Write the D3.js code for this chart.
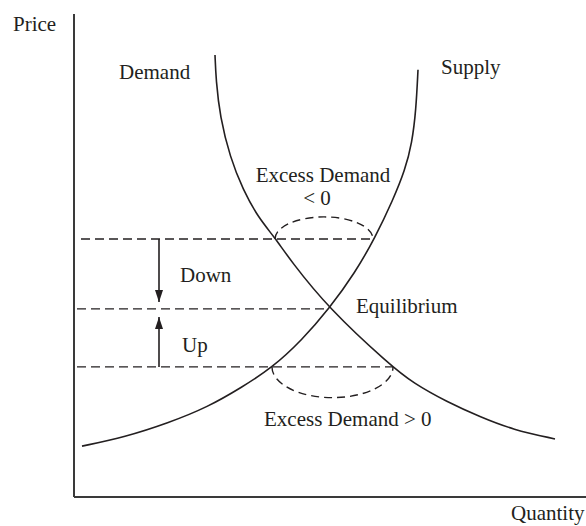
<!DOCTYPE html>
<html>
<head>
<meta charset="utf-8">
<script src="https://cdn.jsdelivr.net/npm/d3@7"></script>
<style>
  body { margin: 0; background: #fff; }
  text { font-family: "Liberation Serif", "Times New Roman", serif; font-size: 21px; fill: #231f20; }
</style>
</head>
<body>
<div id="chart"></div>
<script>

// curve data (quantity, price), both on a 0..100 scale
var demandQ = [28.2, 28.4, 29.2, 31.2, 33.8, 36.8, 40.2, 43.2, 51, 63.2, 67.8, 74.6, 81.2, 87.8, 96.2];
var demandP = [92.1, 86.9, 79.2, 70.8, 64.0, 58.3, 54.0, 49.4, 39.2, 27.5, 23.75, 19.8, 16.7, 14.0, 12.1];
var supplyQ = [1.6, 10.2, 18.8, 26.8, 33.6, 39.6, 45.6, 51, 56.2, 60.2, 63.8, 66.2, 67.6, 68.4, 68.8];
var supplyP = [10.6, 12.5, 15.4, 18.75, 22.9, 26.9, 32.7, 39.2, 46.7, 54.0, 61.9, 68.1, 73.75, 80.6, 89.0];

// price levels : high, equilibrium, low
var priceLevels = [53.75, 39.2, 27.1];
var levelStartQ = [1.4, 0.6, 0.6];
var levelEndQ = [59.8, 51, 63.8];

// excess demand arcs : [left q, right q, price, bulge in price units]
var arcLeftQ = [40.2, 39.6];
var arcRightQ = [59.8, 63.8];
var arcPrice = [53.75, 27.1];
var arcBulge = [4.6, -6.4];

// adjustment arrows : quantity, from price, to price
var arrowQ = 17;
var arrowFrom = [53.75, 27.1];
var arrowTo = [40.6, 37.5];

var labels = [
  { text: 'Price', q: -12.2, p: 97 },
  { text: 'Demand', q: 9, p: 87 },
  { text: 'Supply', q: 73.4, p: 88.1 },
  { text: 'Excess Demand', q: 49.8, p: 65.6, anchor: 'middle' },
  { text: '< 0', q: 48.6, p: 60.8, anchor: 'middle' },
  { text: 'Down', q: 21.2, p: 44.8 },
  { text: 'Up', q: 21.6, p: 30.2 },
  { text: 'Equilibrium', q: 56.4, p: 38.4 },
  { text: 'Excess Demand > 0', q: 38, p: 14.8 },
  { text: 'Quantity', q: 87.4, p: -4.8 }
];

var attrs = {
  svgWidth: 586,
  svgHeight: 526,
  originX: 74,
  originY: 497,
  color: '#231f20'
};

var svg = d3.select('#chart')
  .append('svg')
  .attr('width', attrs.svgWidth)
  .attr('height', attrs.svgHeight);

var x = d3.scaleLinear().domain([0, 100]).range([attrs.originX, 574]);
var y = d3.scaleLinear().domain([0, 100]).range([attrs.originY, 17]);

// axes (plain lines, no ticks)
svg.append('line')
  .attr('x1', x(0)).attr('x2', x(0))
  .attr('y1', 14).attr('y2', y(0))
  .attr('stroke', '#3a3a3a').attr('stroke-width', 2);

svg.append('line')
  .attr('x1', x(0)).attr('x2', attrs.svgWidth)
  .attr('y1', y(0)).attr('y2', y(0))
  .attr('stroke', '#3a3a3a').attr('stroke-width', 2);

// dashed price levels
svg.selectAll('.level')
  .data(priceLevels)
  .enter().append('line')
  .attr('class', 'level')
  .attr('x1', function (d, i) { return x(levelStartQ[i]); })
  .attr('x2', function (d, i) { return x(levelEndQ[i]); })
  .attr('y1', function (d) { return y(d); })
  .attr('y2', function (d) { return y(d); })
  .attr('stroke', attrs.color)
  .attr('stroke-width', 1.4)
  .attr('stroke-dasharray', '9,5');

// excess demand half ellipses
svg.selectAll('.arc')
  .data(arcPrice)
  .enter().append('path')
  .attr('class', 'arc')
  .attr('fill', 'none')
  .attr('stroke', attrs.color)
  .attr('stroke-width', 1.4)
  .attr('stroke-dasharray', '8,5')
  .attr('d', function (d, i) {
    var x0 = x(arcLeftQ[i]), x1 = x(arcRightQ[i]), py = y(d);
    var rx = (x1 - x0) / 2;
    var ry = Math.abs(y(d + arcBulge[i]) - py);
    var sweep = arcBulge[i] > 0 ? 1 : 0;
    return 'M' + x0 + ',' + py + ' A' + rx + ',' + ry + ' 0 0 ' + sweep + ' ' + x1 + ',' + py;
  });

// demand and supply curves (basis spline irons out reading noise)
var line = d3.line()
  .x(function (d) { return x(d[0]); })
  .y(function (d) { return y(d[1]); })
  .curve(d3.curveBasis);

var demand = demandQ.map(function (q, i) { return [q, demandP[i]]; });
var supply = supplyQ.map(function (q, i) { return [q, supplyP[i]]; });

[demand, supply].forEach(function (pts) {
  svg.append('path')
    .attr('d', line(pts))
    .attr('fill', 'none')
    .attr('stroke', attrs.color)
    .attr('stroke-width', 1.6);
});

// arrows
svg.append('defs').append('marker')
  .attr('id', 'head')
  .attr('viewBox', '0 0 12 8')
  .attr('refX', 12).attr('refY', 4)
  .attr('markerWidth', 12).attr('markerHeight', 8)
  .attr('markerUnits', 'userSpaceOnUse')
  .attr('orient', 'auto')
  .append('path')
  .attr('d', 'M0,0 L12,4 L0,8 Z')
  .attr('fill', attrs.color);

svg.selectAll('.arrow')
  .data(arrowFrom)
  .enter().append('line')
  .attr('class', 'arrow')
  .attr('x1', x(arrowQ)).attr('x2', x(arrowQ))
  .attr('y1', function (d) { return y(d); })
  .attr('y2', function (d, i) { return y(arrowTo[i]); })
  .attr('stroke', attrs.color)
  .attr('stroke-width', 1.6)
  .attr('marker-end', 'url(#head)');

// labels
svg.selectAll('.label')
  .data(labels)
  .enter().append('text')
  .attr('class', 'label')
  .attr('x', function (d) { return x(d.q); })
  .attr('y', function (d) { return y(d.p); })
  .attr('text-anchor', function (d) { return d.anchor || 'start'; })
  .text(function (d) { return d.text; });

</script>
</body>
</html>
